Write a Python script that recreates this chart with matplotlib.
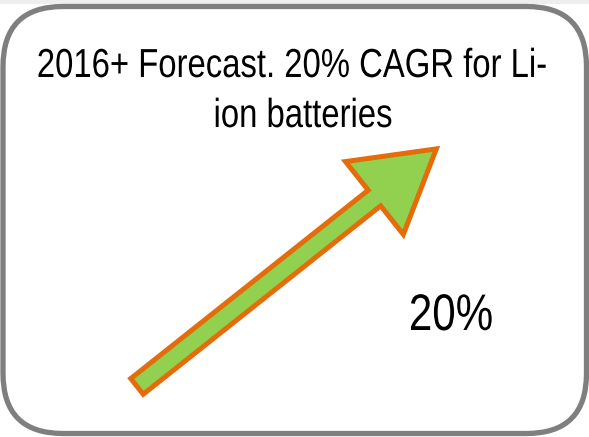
import numpy as np
import matplotlib.pyplot as plt
from matplotlib import patheffects
from matplotlib.path import Path
from matplotlib.patches import FancyBboxPatch, FancyArrow, Rectangle

# texte du cadre
titre = ["2016+ Forecast. 20% CAGR for Li-", "ion batteries"]
titre_x = [292, 303]
titre_y = [77, 127]
taux = "20%"
taux_xy = (451, 330)

# flèche : queue et pointe (pixels)
fleche_queue = (137, 386.4)
fleche_pointe = (436.3, 148.9)

# cadre arrondi (pixels)
cadre = [3, 6.5, 586.5, 433.5]


# police étroite (Arial Narrow absente) : on resserre le tracé du texte
class Etroit(patheffects.AbstractPathEffect):
    def __init__(self, sx, sy=1.0):
        super().__init__()
        self.sx = sx
        self.sy = sy

    def draw_path(self, renderer, gc, tpath, affine, rgbFace=None):
        v = np.array(tpath.vertices, dtype=float)
        if tpath.codes is not None:
            ok = tpath.codes != Path.CLOSEPOLY
        else:
            ok = np.ones(len(v), bool)
        cx = (v[ok, 0].min() + v[ok, 0].max()) / 2
        v[:, 0] = cx + (v[:, 0] - cx) * self.sx
        v[:, 1] = v[:, 1] * self.sy
        renderer.draw_path(gc, Path(v, tpath.codes), affine, rgbFace)


police = 'Liberation Sans'

fig = plt.figure(figsize=(5.89, 4.37), dpi=100)
ax = fig.add_axes([0, 0, 1, 1])
ax.set_xlim(0, 589)
ax.set_ylim(437, 0)
ax.axis('off')

ax.add_patch(Rectangle((0, 0), 589, 4, color='#eeeeee', lw=0, zorder=0))

x0, y0, x1, y1 = cadre
ax.add_patch(FancyBboxPatch((x0, y0), x1 - x0, y1 - y0,
                            boxstyle="round,pad=0,rounding_size=60",
                            fc='white', ec='#7f7f7f', lw=3.8, zorder=1))

ax.add_patch(FancyArrow(fleche_queue[0], fleche_queue[1],
                        fleche_pointe[0] - fleche_queue[0],
                        fleche_pointe[1] - fleche_queue[1],
                        width=20, head_width=93, head_length=79,
                        length_includes_head=True,
                        fc='#92D050', ec='#E46C0A', lw=3.6,
                        joinstyle='miter', zorder=2))

for ligne, x, y in zip(titre, titre_x, titre_y):
    ax.text(x, y, ligne, ha='center', va='baseline', fontsize=27,
            family=police, color='black', zorder=3,
            path_effects=[Etroit(0.876, 1.08)])

ax.text(taux_xy[0], taux_xy[1], taux, ha='center', va='baseline',
        fontsize=37, family=police, color='black', zorder=3,
        path_effects=[Etroit(0.82)])

fig.savefig('out.png', dpi=100)
